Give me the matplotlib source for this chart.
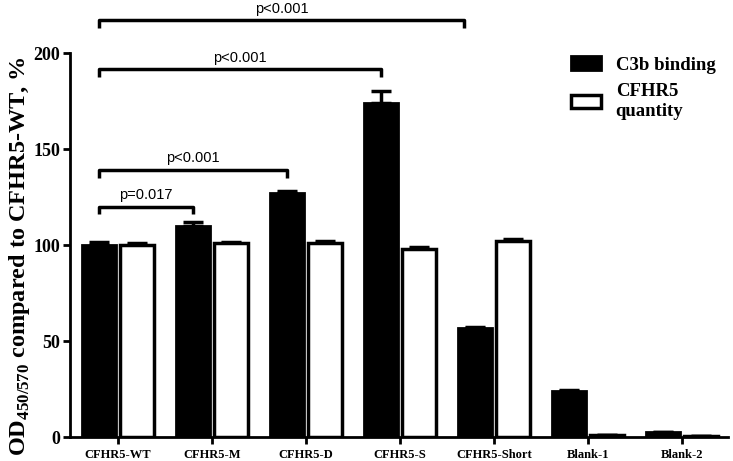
import numpy as np
import matplotlib.pyplot as plt
from matplotlib.patches import Patch

categories = ["CFHR5-WT", "CFHR5-M", "CFHR5-D", "CFHR5-S", "CFHR5-Short", "Blank-1", "Blank-2"]
c3b_binding = [100, 110, 127, 174, 57, 24, 2.5]
c3b_err = [1.5, 2.0, 1.0, 6.0, 0.5, 0.5, 0.3]
cfhr5_quantity = [100, 101, 101, 98, 102, 1.0, 0.5]
cfhr5_err = [0.8, 0.5, 1.0, 0.8, 1.2, 0.3, 0.2]

# significance brackets: (from group, to group, bracket height, label)
brackets = [
    (0, 1, 120, "p=0.017"),
    (0, 2, 139, "p<0.001"),
    (0, 3, 191.5, "p<0.001"),
    (0, 4, 217, "p<0.001"),
]

serif = ["Liberation Serif", "DejaVu Serif"]
sans = ["Liberation Sans", "DejaVu Sans"]

fig = plt.figure(figsize=(7.33, 4.61), dpi=100)
ax = fig.add_axes([0.0955, 0.052, 0.898, 0.833])

x = np.arange(len(categories))
w = 0.36
off = 0.2
ax.bar(x - off, c3b_binding, w, color="black", edgecolor="black", linewidth=2,
       label="C3b binding", zorder=2)
ax.bar(x + off, cfhr5_quantity, w, color="white", edgecolor="black", linewidth=2.5,
       label="CFHR5\nquantity", zorder=2)
ax.errorbar(x - off, c3b_binding, yerr=[np.zeros(len(x)), c3b_err], fmt="none",
            ecolor="black", elinewidth=2.5, capsize=7, capthick=2.5, zorder=3)
ax.errorbar(x + off, cfhr5_quantity, yerr=[np.zeros(len(x)), cfhr5_err], fmt="none",
            ecolor="black", elinewidth=2.5, capsize=7, capthick=2.5, zorder=1)

for a, b, h, lab in brackets:
    xa = a - off
    xb = b - off if b < 4 else b - 0.32
    ax.plot([xa, xa, xb, xb], [h - 4, h, h, h - 4], color="black", lw=2.5,
            clip_on=False, solid_capstyle="butt")
    ax.text((xa + xb) / 2, h + 2.5, lab, ha="center", va="bottom",
            fontsize=10.5, family=sans)

ax.set_xlim(-0.51, 6.49)
ax.set_ylim(0, 200)
ax.set_yticks([0, 50, 100, 150, 200])
ax.set_xticks(x)
ax.set_xticklabels(categories, fontsize=9, fontweight="bold", family=serif)
for t in ax.get_yticklabels():
    t.set_fontsize(13)
    t.set_fontweight("bold")
    t.set_family(serif)
ax.tick_params(axis="both", width=2, length=5, direction="out")
ax.tick_params(axis="y", pad=2)
ax.spines["top"].set_visible(False)
ax.spines["right"].set_visible(False)
ax.spines["left"].set_linewidth(2)
ax.spines["bottom"].set_linewidth(2)

ax.set_ylabel("OD$_{\\mathregular{450/570}}$ compared to CFHR5-WT, %", fontsize=17.5,
              fontweight="bold", family=serif)
ax.yaxis.set_label_coords(-0.058, 0.47)

handles = [Patch(facecolor="black", edgecolor="black", linewidth=2, label="C3b binding"),
           Patch(facecolor="white", edgecolor="black", linewidth=2.5, label="CFHR5\nquantity")]
leg = ax.legend(handles=handles, loc="upper left", bbox_to_anchor=(0.735, 1.035),
                frameon=False, prop={"family": serif, "weight": "bold", "size": 13.5},
                handlelength=1.6, handleheight=0.75, handletextpad=0.8, labelspacing=0.5)

fig.savefig("out.png", dpi=100)
